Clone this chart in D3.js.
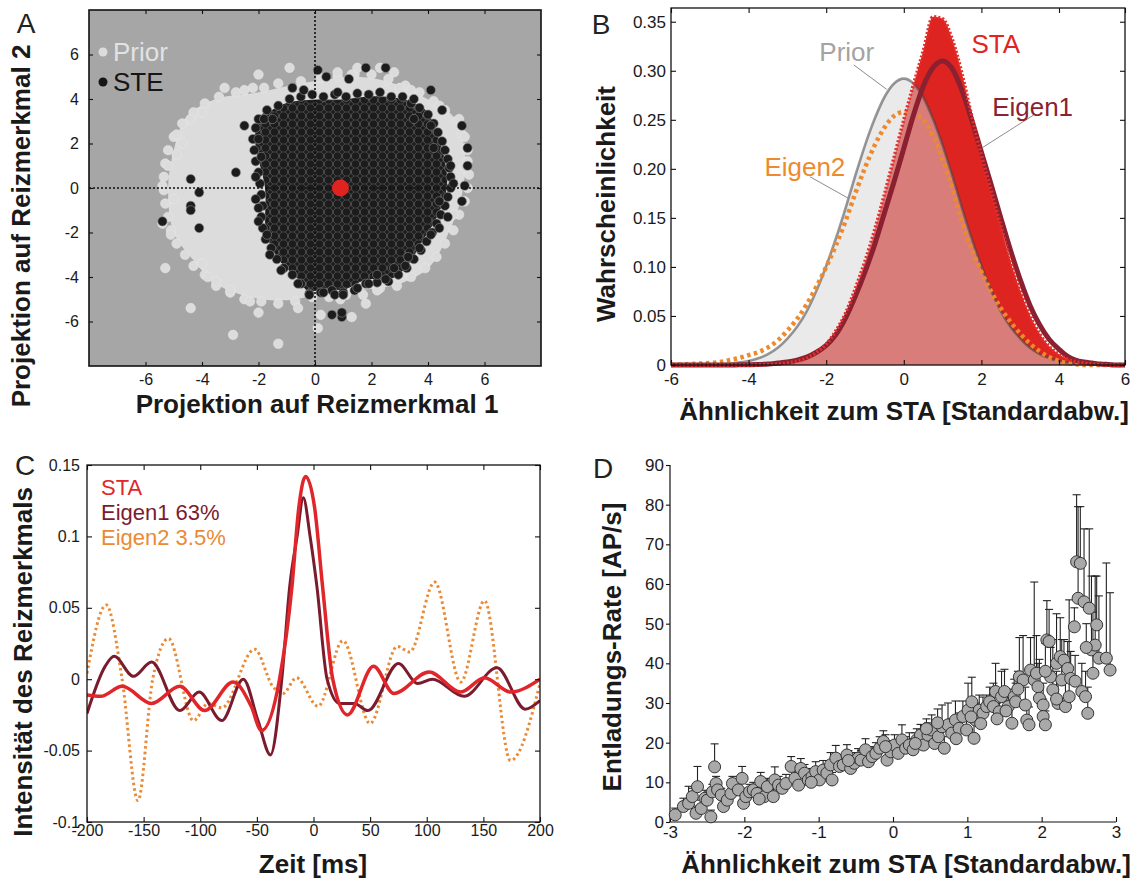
<!DOCTYPE html>
<html>
<head>
<meta charset="utf-8">
<script src="https://cdn.jsdelivr.net/npm/d3@7"></script>
<style>
  html, body { margin: 0; padding: 0; background: #fff; }
  svg { display: block; }
</style>
</head>
<body>
<svg id="fig" width="1136" height="879"></svg>
<script>
const FONT = '"Liberation Sans", Arial, Helvetica, sans-serif';

// ---------- A: projections on the two stimulus features ----------
const priorHull = [[0.25, 4.85], [1.5, 5.0], [2.8, 4.7], [4.05, 3.95], [4.9, 3.2], [5.3, 1.7], [5.2, -0.3],
  [4.7, -2.1], [4.05, -3.55], [3.0, -4.3], [1.5, -4.6], [0.25, -4.75], [-1.0, -5.05], [-2.3, -4.9],
  [-3.5, -4.3], [-4.3, -3.25], [-5.0, -2.0], [-5.2, 0.0], [-5.0, 1.7], [-4.55, 3.2], [-3.5, 4.0],
  [-2.0, 4.3], [-0.9, 4.6]];
const priorEdge = [[-0.5, 4.8], [-1.3, 4.7], [-2.2, 4.5], [-2.8, 4.3], [-3.4, 4.1], [-3.9, 3.8], [-4.3, 3.4],
  [-4.7, 2.9], [-5.0, 2.3], [-5.2, 1.7], [-5.3, 1.1], [-5.35, 0.5], [-5.35, -0.1], [-5.3, -0.7], [-5.2, -1.3],
  [-5.1, -1.9], [-4.9, -2.5], [-4.6, -3.0], [-4.3, -3.5], [-3.9, -3.9], [-3.5, -4.4], [-3.0, -4.7], [-2.5, -5.0],
  [-1.9, -5.1], [-1.3, -5.2], [-0.7, -5.1], [-0.1, -4.9], [0.5, -4.9], [1.1, -4.8], [1.7, -4.8], [2.3, -4.5],
  [2.9, -4.4], [3.4, -4.0], [3.9, -3.6], [4.3, -3.1], [4.6, -2.5], [4.9, -1.9], [5.1, -1.2], [5.3, -0.6],
  [5.4, 0.0], [5.45, 0.6], [5.4, 1.2], [5.35, 1.8], [5.2, 2.4], [5.0, 3.0], [4.6, 3.5], [4.2, 3.9], [3.7, 4.3],
  [3.2, 4.6], [2.6, 4.9], [2.0, 5.1], [1.4, 5.1], [0.8, 5.0], [0.2, 4.95]];
const priorOut = [[-0.9, 5.4], [-2.0, 5.1], [-3.2, 4.5], [-2.5, 4.4], [-1.8, 4.5], [-4.0, 3.4], [-4.4, 3.1],
  [-4.9, 2.4], [-4.9, 1.5], [-5.2, 1.0], [-5.4, 0.1], [-5.4, -1.6], [-5.1, -2.1], [-5.3, -3.6], [-4.4, -5.4],
  [-2.9, -6.6], [-1.3, -7.0], [-2.0, -5.6], [-0.6, -5.4], [0.2, -5.7], [0.1, -6.3], [1.3, -5.8], [0.9, -5.0],
  [1.8, -5.2], [2.2, -4.6], [3.0, -3.9], [3.9, -2.4], [4.5, -1.2], [5.3, 2.3], [5.4, 1.7], [5.1, 3.1],
  [4.4, 3.7], [3.4, 4.4], [3.0, 4.5], [2.8, 5.2], [2.3, 5.4], [1.5, 5.4], [1.3, 5.1], [0.8, 5.2], [2.5, 4.4],
  [-4.0, -3.4], [-3.5, -4.2], [-3.0, -4.6], [-2.3, -5.1], [5.3, 0.9], [5.2, -0.6], [4.9, -1.2], [-5.0, -0.5],
  [-4.7, 2.0], [-3.8, -4.0]];
const steHull = [[-1.95, 3.2], [-1.5, 3.5], [-1.0, 3.8], [0.0, 3.95], [0.9, 3.95], [2.15, 4.1], [3.15, 3.95],
  [3.9, 3.5], [4.3, 2.45], [4.55, 1.4], [4.65, 0.05], [4.3, -1.3], [3.8, -2.35], [3.3, -3.4], [2.8, -4.0],
  [1.8, -4.1], [1.0, -4.55], [0.4, -4.5], [-0.25, -4.6], [-0.65, -4.0], [-1.25, -3.25], [-1.7, -2.05],
  [-1.75, 0.0], [-2.1, 2.15]];
const steEdge = [[-1.3, 3.7], [-0.9, 4.0], [-0.5, 4.1], [-0.1, 4.2], [0.3, 4.1], [0.7, 4.2], [1.1, 4.1],
  [1.5, 4.25], [1.9, 4.2], [2.3, 4.3], [2.7, 4.1], [3.1, 4.1], [3.4, 3.8], [3.7, 3.6], [4.0, 3.3], [4.2, 2.9],
  [4.35, 2.5], [4.5, 2.1], [4.6, 1.7], [4.7, 1.3], [4.75, 0.9], [4.8, 0.5], [4.8, 0.0], [4.7, -0.4], [4.6, -0.8],
  [4.45, -1.2], [4.3, -1.6], [4.15, -2.0], [3.95, -2.4], [3.75, -2.8], [3.5, -3.2], [3.25, -3.6], [2.95, -3.9],
  [2.6, -4.2], [2.2, -4.25], [1.8, -4.3], [1.4, -4.6], [1.0, -4.7], [0.6, -4.6], [0.2, -4.7], [-0.2, -4.75],
  [-0.5, -4.3], [-0.8, -3.9], [-1.1, -3.6], [-1.35, -3.2], [-1.55, -2.7], [-1.75, -2.3], [-1.85, -1.8],
  [-1.9, -1.3], [-1.85, -0.8], [-1.9, -0.3], [-1.95, 0.2], [-2.0, 0.7], [-2.1, 1.2], [-2.15, 1.7], [-2.2, 2.2],
  [-2.1, 2.7], [-2.0, 3.1], [-1.7, 3.5]];
const steOut = [[0.1, 5.3], [0.4, 5.0], [1.8, 5.4], [2.5, 5.4], [4.1, 4.4], [3.5, 4.0], [4.5, 3.5], [5.2, 2.8],
  [5.4, 1.8], [5.4, 1.0], [5.3, 0.1], [5.2, -0.6], [4.9, 0.2], [4.7, -1.3], [4.4, -1.8], [-2.5, 2.8],
  [-2.8, 0.7], [-4.4, 0.4], [-4.1, -0.2], [-4.4, -0.8], [-4.4, -1.0], [-5.4, -1.5], [-4.1, -1.8], [-2.1, 0.5],
  [-2.1, -0.5], [-2.0, -1.5], [-1.7, -2.1], [-1.6, -3.0], [-0.2, -4.8], [0.3, -4.7], [0.7, -4.8], [1.0, -4.8],
  [0.6, -5.7], [0.95, -5.8], [0.95, -5.6], [2.2, -3.9], [2.8, -3.6], [3.3, -3.1], [-1.8, 3.1], [-1.5, 3.1],
  [-0.8, 4.5], [-0.4, 4.4], [0.8, 4.3], [1.2, 4.9], [3.5, 3.1], [4.1, 2.8], [4.2, 1.8], [4.8, 1.0], [4.4, -0.6],
  [4.1, -2.1], [3.7, -2.7], [1.5, -4.5], [-0.6, -4.3], [-1.2, -3.7], [-2.0, 2.2], [-1.9, 1.4], [-2.0, -0.9],
  [3.2, -3.5], [2.5, -4.1], [1.9, -4.3]];
const staPoint = [0.9, 0.0];
const aTicks = [-6, -4, -2, 0, 2, 4, 6];

// ---------- B: similarity distributions ----------
const bX = [-6, -5.75, -5.5, -5.25, -5, -4.75, -4.5, -4.25, -4, -3.75, -3.5, -3.25, -3, -2.75, -2.5, -2.25,
  -2, -1.75, -1.5, -1.25, -1, -0.75, -0.5, -0.25, 0, 0.25, 0.5, 0.75, 1, 1.25, 1.5, 1.75, 2, 2.25, 2.5, 2.75,
  3, 3.25, 3.5, 3.75, 4, 4.25, 4.5, 4.75, 5, 5.25, 5.5, 5.75, 6];
const bPrior = [0, 0, 0, 0.0002, 0.0004, 0.0007, 0.0013, 0.0024, 0.0041, 0.0069, 0.011, 0.0175, 0.027, 0.039,
  0.055, 0.076, 0.101, 0.129, 0.160, 0.193, 0.224, 0.251, 0.273, 0.287, 0.292, 0.287, 0.273, 0.251, 0.224,
  0.193, 0.160, 0.129, 0.101, 0.076, 0.055, 0.039, 0.027, 0.0175, 0.011, 0.0069, 0.0041, 0.0024, 0.0013,
  0.0007, 0.0004, 0.0002, 0, 0, 0];
const bSTA = [0, 0, 0, 0, 0, 0, 0, 0, 0, 0.0002, 0.0005, 0.001, 0.002, 0.004, 0.007, 0.013, 0.021, 0.035,
  0.053, 0.078, 0.106, 0.138, 0.174, 0.212, 0.250, 0.286, 0.320, 0.355, 0.353, 0.332, 0.297, 0.254, 0.214,
  0.178, 0.142, 0.106, 0.076, 0.051, 0.032, 0.019, 0.011, 0.006, 0.0035, 0.002, 0.001, 0.0005, 0, 0, 0];
const bEigen1 = [0, 0, 0, 0, 0, 0, 0, 0.0002, 0.0003, 0.0005, 0.001, 0.002, 0.003, 0.005, 0.008, 0.013, 0.020,
  0.031, 0.048, 0.070, 0.095, 0.123, 0.155, 0.187, 0.221, 0.255, 0.284, 0.303, 0.310, 0.302, 0.280, 0.250,
  0.217, 0.184, 0.150, 0.117, 0.087, 0.061, 0.041, 0.026, 0.016, 0.009, 0.005, 0.003, 0.002, 0.001, 0.0005, 0, 0];
const bEigen2 = [0, 0.0005, 0.001, 0.0015, 0.002, 0.003, 0.005, 0.007, 0.010, 0.013, 0.018, 0.025, 0.035, 0.047,
  0.062, 0.080, 0.100, 0.122, 0.147, 0.175, 0.201, 0.224, 0.242, 0.254, 0.258, 0.256, 0.250, 0.234, 0.210,
  0.180, 0.146, 0.118, 0.095, 0.075, 0.058, 0.044, 0.032, 0.022, 0.014, 0.008, 0.004, 0.002, 0.001, 0, 0, 0,
  0, 0, 0];
const bXTicks = [-6, -4, -2, 0, 2, 4, 6];
const bYTicks = [0, 0.05, 0.10, 0.15, 0.20, 0.25, 0.30, 0.35];

// ---------- C: stimulus features over time ----------
const cStaT = [-200, -188, -169, -143, -118, -96, -71, -55, -46, -30, -19, -13, -7, 1, 8, 17, 30, 53, 71, 102,
  130, 151, 174, 200];
const cStaV = [-0.011, -0.012, -0.005, -0.017, -0.005, -0.022, -0.002, -0.019, -0.036, 0.0, 0.065, 0.12, 0.142,
  0.12, 0.065, 0.0, -0.025, 0.009, -0.010, 0.005, -0.009, 0.001, -0.009, 0.0];
const cEig1T = [-200, -184, -176, -159, -143, -118, -101, -81, -62, -49, -38, -28, -21, -14.5, -9, -3, 3, 12, 23,
  36, 48, 75, 92, 105, 133, 162, 187, 200];
const cEig1V = [-0.024, 0.009, 0.016, 0.002, 0.012, -0.022, -0.009, -0.029, 0.0, -0.029, -0.053, 0.0, 0.065, 0.1,
  0.127, 0.1, 0.065, 0.0, -0.017, -0.017, -0.022, 0.011, -0.003, 0.0, -0.012, 0.008, -0.021, -0.015];
const cEig2T = [-200, -183, -169, -155, -142, -128, -106, -93, -81, -52, -36, -27, -15, 4, 26, 50, 74, 85, 107,
  130, 151, 174, 200];
const cEig2V = [0.004, 0.052, 0.0, -0.085, 0.0, 0.0285, -0.029, -0.017, -0.02, 0.021, -0.005, -0.01, 0.001,
  -0.019, 0.027, -0.031, 0.023, 0.019, 0.068, -0.002, 0.055, -0.057, -0.003];
const cXTicks = [-200, -150, -100, -50, 0, 50, 100, 150, 200];
const cYTicks = [-0.1, -0.05, 0, 0.05, 0.1, 0.15];
const cLegend = ['STA', 'Eigen1 63%', 'Eigen2 3.5%'];

// ---------- D: firing rate vs. similarity ----------
const dX = [-2.93, -2.82, -2.75, -2.70, -2.63, -2.65, -2.58, -2.53, -2.45, -2.50, -2.43, -2.40, -2.38, -2.36,
  -2.31, -2.28, -2.23, -2.18, -2.16, -2.08, -2.03, -2.01, -1.98, -1.93, -1.88, -1.83, -1.78, -1.73, -1.69,
  -1.61, -1.59, -1.54, -1.49, -1.44, -1.37, -1.32, -1.27, -1.24, -1.19, -1.14, -1.09, -1.04, -0.99, -0.94,
  -0.89, -0.84, -0.82, -0.77, -0.72, -0.67, -0.62, -0.57, -0.52, -0.47, -0.43, -0.37, -0.33, -0.28, -0.23,
  -0.18, -0.13, -0.08, -0.03, 0.02, 0.07, 0.12, 0.17, 0.22, 0.27, 0.32, 0.37, 0.41, 0.47, 0.52, 0.56, 0.61,
  0.66, 0.69, 0.74, 0.79, 0.84, 0.89, 0.94, 0.99, 1.01, 1.06, 1.09, 1.11, 1.16, 1.21, 1.26, 1.30, 1.35, 1.38,
  1.43, 1.46, 1.50, 1.55, 1.60, 1.63, 1.65, 1.70, 1.75, 1.78, 1.80, 1.83, 1.85, 1.90, 1.93, 1.95, 1.97, 2.02,
  2.02, 2.05, 2.07, 2.10, 2.12, 2.15, 2.20, 2.22, 2.25, 2.27, 2.30, 2.32, 2.35, 2.37, 2.39, 2.44, 2.47, 2.49,
  2.52, 2.54, 2.57, 2.59, 2.62, 2.64, 2.67, 2.69, 2.72, 2.74, 2.77, 2.87, 2.92, 0.45, 0.60, 0.85, 1.05, 1.18,
  1.40, 1.52, 1.68, -0.60, -0.10, 0.30, -1.10, -1.80, 2.60, 2.20, 2.05, 2.45];
const dY = [1.8, 3.9, 4.7, 6.4, 8.9, 2.2, 3.4, 6.0, 1.3, 5.5, 7.6, 13.9, 9.7, 8.1, 6.8, 3.9, 5.5, 7.2, 9.7, 8.1,
  11.0, 4.7, 6.4, 7.6, 8.1, 7.2, 10.2, 6.4, 8.9, 6.4, 10.6, 9.3, 8.5, 9.7, 14.0, 11.0, 9.3, 13.5, 12.3, 10.6,
  11.4, 12.7, 10.6, 13.1, 12.3, 14.4, 10.6, 16.1, 14.0, 14.4, 16.9, 13.5, 14.8, 16.1, 15.6, 18.2, 15.2, 16.5,
  17.3, 18.6, 20.3, 15.6, 17.7, 19.4, 17.3, 20.7, 18.6, 19.4, 18.2, 20.7, 21.9, 19.4, 21.9, 23.2, 19.8, 21.5,
  24.0, 18.6, 24.5, 22.4, 25.7, 23.6, 26.6, 23.2, 28.2, 30.3, 21.1, 25.7, 28.2, 27.4, 29.1, 30.3, 29.1, 32.9,
  27.8, 31.6, 32.9, 29.1, 24.9, 31.6, 30.3, 36.6, 35.8, 29.5, 25.7, 24.5, 38.3, 35.8, 37.5, 34.1, 31.2, 29.5,
  26.6, 24.5, 45.9, 45.5, 36.6, 33.3, 40.0, 29.9, 41.7, 35.8, 40.8, 29.1, 38.7, 31.6, 36.2, 49.2, 65.6, 56.4,
  65.2, 32.9, 55.5, 31.6, 27.4, 53.9, 43.4, 37.5, 44.6, 49.7, 41.3, 41.3, 38.3, 23.5, 25.0, 21.0, 26.5, 24.8,
  26.0, 28.0, 33.5, 15.5, 19.0, 19.8, 10.0, 5.8, 44.0, 31.0, 38.0, 35.5];
const dHigh = [3.5, 6.0, 9.0, 8.5, 14.0, 4.0, 5.5, 8.0, 3.0, 7.5, 9.5, 19.7, 11.5, 10.0, 8.5, 5.5, 7.5, 9.5, 11.5,
  10.0, 14.0, 6.5, 8.5, 9.5, 10.0, 9.0, 12.5, 8.5, 11.0, 8.5, 13.9, 11.5, 10.5, 12.0, 16.5, 13.5, 11.5, 16.0,
  14.5, 12.5, 13.5, 15.2, 12.5, 15.5, 14.5, 17.5, 12.5, 19.3, 16.5, 17.0, 19.5, 16.0, 17.5, 18.5, 18.0, 21.0,
  17.5, 19.0, 20.0, 21.5, 23.0, 18.0, 20.5, 22.0, 20.0, 24.5, 21.5, 22.5, 21.0, 23.5, 24.6, 22.5, 25.0, 27.0,
  23.0, 25.0, 29.5, 21.5, 30.0, 26.0, 30.5, 27.5, 30.5, 27.0, 35.0, 36.5, 25.0, 30.0, 32.0, 31.5, 32.0, 34.0,
  35.0, 40.0, 32.0, 38.0, 38.5, 33.5, 29.0, 36.0, 35.0, 46.5, 47.0, 34.0, 30.0, 29.0, 46.5, 60.5, 47.0, 40.0,
  41.0, 35.0, 31.0, 28.0, 55.8, 53.6, 44.0, 46.0, 52.5, 36.0, 51.5, 46.0, 46.0, 36.0, 45.5, 56.0, 43.0, 54.0,
  82.5, 79.5, 79.5, 40.0, 73.9, 38.0, 34.0, 73.9, 62.0, 52.9, 62.0, 62.0, 57.0, 65.3, 57.8, 26.0, 28.5, 24.0,
  30.0, 28.0, 30.0, 31.5, 38.0, 18.0, 22.0, 22.5, 12.0, 8.0, 50.0, 38.0, 45.0, 42.0];
const dXTicks = [-3, -2, -1, 0, 1, 2, 3];
const dYTicks = [0, 10, 20, 30, 40, 50, 60, 70, 80, 90];

// ---------------------------------------------------------------
const svg = d3.select('#fig').attr('font-family', FONT);
svg.append('rect').attr('width', 1136).attr('height', 879).attr('fill', '#fff');
const defs = svg.append('defs');

function styleAxis(sel, fs) {
  sel.select('.domain').remove();
  sel.attr('font-family', FONT).attr('font-size', fs);
  sel.selectAll('line').attr('stroke', '#111').attr('stroke-width', 1.1);
  sel.selectAll('text').attr('fill', '#1a1a1a');
}

// axes with inward ticks on all four sides, as in the boxed panels
function boxAxes(g, x, y, o) {
  const xr = x.range(), yr = y.range();
  const x0 = xr[0], x1 = xr[xr.length - 1], yB = yr[0], yT = yr[yr.length - 1];
  g.append('g').attr('transform', `translate(0,${yB})`)
    .call(d3.axisBottom(x).tickValues(o.xTicks).tickFormat(o.xFmt).tickSize(-o.tick).tickPadding(o.xPad))
    .call(styleAxis, o.fs);
  g.append('g').attr('transform', `translate(${x0},0)`)
    .call(d3.axisLeft(y).tickValues(o.yTicks).tickFormat(o.yFmt).tickSize(-o.tick).tickPadding(o.yPad))
    .call(styleAxis, o.fs);
  g.append('g').attr('transform', `translate(0,${yT})`)
    .call(d3.axisTop(x).tickValues(o.xTicks).tickFormat(() => '').tickSize(-o.tick))
    .call(styleAxis, o.fs);
  g.append('g').attr('transform', `translate(${x1},0)`)
    .call(d3.axisRight(y).tickValues(o.yTicks).tickFormat(() => '').tickSize(-o.tick))
    .call(styleAxis, o.fs);
  g.append('rect').attr('x', x0).attr('y', yT).attr('width', x1 - x0).attr('height', yB - yT)
    .attr('fill', 'none').attr('stroke', '#111').attr('stroke-width', o.frame || 1.3);
}

function title(g, text, x, y, rotate, size) {
  g.append('text')
    .attr('transform', `translate(${x},${y})` + (rotate ? ' rotate(-90)' : ''))
    .attr('text-anchor', 'middle').attr('dominant-baseline', 'central')
    .attr('font-weight', 'bold').attr('font-size', size || 26).attr('fill', '#1a1a1a')
    .text(text);
}

function panelLabel(text, x, y) {
  svg.append('text').attr('x', x).attr('y', y)
    .attr('text-anchor', 'middle').attr('dominant-baseline', 'central')
    .attr('font-size', 28).attr('fill', '#222').text(text);
}

const fmt = d => String(d);

// ============================ A ============================
{
  const x = d3.scaleLinear().domain([-8, 8]).range([89, 541]);
  const y = d3.scaleLinear().domain([-8, 8]).range([366, 10]);
  const g = svg.append('g');

  defs.append('clipPath').attr('id', 'clipA').append('rect')
    .attr('x', 89).attr('y', 10).attr('width', 452).attr('height', 356);
  const tex = defs.append('pattern').attr('id', 'steTex').attr('patternUnits', 'userSpaceOnUse')
    .attr('width', 9).attr('height', 8);
  tex.append('rect').attr('width', 9).attr('height', 8).attr('fill', '#1c1c1c');
  [[0, 0], [9, 0], [0, 8], [9, 8], [4.5, 4]].forEach(([cx, cy]) => {
    tex.append('circle').attr('cx', cx).attr('cy', cy).attr('r', 4.2)
      .attr('fill', '#1c1c1c').attr('stroke', '#7d7d7d').attr('stroke-width', 0.45);
  });

  g.append('rect').attr('x', 89).attr('y', 10).attr('width', 452).attr('height', 356).attr('fill', '#a6a6a6');

  const plot = g.append('g').attr('clip-path', 'url(#clipA)');
  const hull = d3.line().x(d => x(d[0])).y(d => y(d[1])).curve(d3.curveCatmullRomClosed.alpha(0.5));

  plot.append('path').datum(priorHull).attr('d', hull).attr('fill', '#dcdcdc');
  plot.selectAll('.pri').data(priorEdge.concat(priorOut)).join('circle').attr('class', 'pri')
    .attr('cx', d => x(d[0])).attr('cy', d => y(d[1])).attr('r', 4.8)
    .attr('fill', '#dcdcdc').attr('stroke', '#e8e8e8').attr('stroke-width', 0.5);

  plot.append('path').datum(steHull).attr('d', hull).attr('fill', 'url(#steTex)')
    .attr('stroke', '#1c1c1c').attr('stroke-width', 1);
  plot.selectAll('.ste').data(steEdge.concat(steOut)).join('circle').attr('class', 'ste')
    .attr('cx', d => x(d[0])).attr('cy', d => y(d[1])).attr('r', 4.6)
    .attr('fill', '#1c1c1c').attr('stroke', '#8a8a8a').attr('stroke-width', 0.6);

  plot.append('line').attr('x1', x(-8)).attr('x2', x(8)).attr('y1', y(0)).attr('y2', y(0))
    .attr('stroke', '#111').attr('stroke-width', 1.6).attr('stroke-dasharray', '2,2');
  plot.append('line').attr('x1', x(0)).attr('x2', x(0)).attr('y1', y(-8)).attr('y2', y(8))
    .attr('stroke', '#111').attr('stroke-width', 1.6).attr('stroke-dasharray', '2,2');

  plot.append('circle').attr('cx', x(staPoint[0])).attr('cy', y(staPoint[1])).attr('r', 8.5)
    .attr('fill', '#e0231e');

  boxAxes(g, x, y, { xTicks: aTicks, yTicks: aTicks, xFmt: fmt, yFmt: fmt, tick: 4, xPad: 8, yPad: 10,
    fs: 16, frame: 1.6 });

  // legend
  g.append('circle').attr('cx', 103).attr('cy', 52).attr('r', 4.5).attr('fill', '#dcdcdc');
  g.append('text').attr('x', 113).attr('y', 52).attr('dominant-baseline', 'central')
    .attr('font-size', 26).attr('fill', '#e2e2e2').text('Prior');
  g.append('circle').attr('cx', 103).attr('cy', 82).attr('r', 4.5).attr('fill', '#151515');
  g.append('text').attr('x', 113).attr('y', 82).attr('dominant-baseline', 'central')
    .attr('font-size', 26).attr('fill', '#151515').text('STE');

  title(g, 'Projektion auf Reizmerkmal 1', 317, 404, false);
  title(g, 'Projektion auf Reizmerkmal 2', 21, 226, true);
  panelLabel('A', 26, 23);
}

// ============================ B ============================
{
  const x = d3.scaleLinear().domain([-6, 4, 6]).range([671, 1059, 1125]);
  const y = d3.scaleLinear().domain([0, 0.364]).range([365, 8]);
  const g = svg.append('g');
  defs.append('clipPath').attr('id', 'clipB').append('rect')
    .attr('x', 671).attr('y', 8).attr('width', 454).attr('height', 361);
  const plot = g.append('g').attr('clip-path', 'url(#clipB)');

  const rows = s => bX.map((v, i) => [v, s[i]]);
  const area = d3.area().x(d => x(d[0])).y0(y(0)).y1(d => y(d[1])).curve(d3.curveMonotoneX);
  const line = d3.line().x(d => x(d[0])).y(d => y(d[1])).curve(d3.curveMonotoneX);

  plot.append('path').datum(rows(bSTA)).attr('d', area).attr('fill', '#dd2420');
  plot.append('path').datum(rows(bPrior)).attr('d', area).attr('fill', '#d6d6d6').attr('fill-opacity', 0.5);
  plot.append('path').datum(rows(bPrior)).attr('d', line).attr('fill', 'none')
    .attr('stroke', '#444').attr('stroke-opacity', 0.55).attr('stroke-width', 2.6);
  plot.append('path').datum(rows(bEigen2)).attr('d', line).attr('fill', 'none')
    .attr('stroke', '#ee8a2e').attr('stroke-width', 4.5).attr('stroke-dasharray', '3.5,3.5');
  plot.append('path').datum(rows(bEigen1)).attr('d', line).attr('fill', 'none')
    .attr('stroke', '#8a2030').attr('stroke-width', 5);
  plot.append('path').datum(rows(bSTA)).attr('d', line).attr('fill', 'none')
    .attr('stroke', '#e4302c').attr('stroke-width', 3.5).attr('stroke-dasharray', '2,2');

  boxAxes(g, x, y, { xTicks: bXTicks, yTicks: bYTicks, xFmt: fmt,
    yFmt: d => d === 0 ? '0' : d.toFixed(2), tick: 5, xPad: 8, yPad: 5, fs: 17 });

  const labels = [
    { t: 'Prior', x: -1.47, y: 0.319, c: '#a3a3a3', from: [-1.29, 0.306], to: [-0.44, 0.281] },
    { t: 'STA', x: 2.37, y: 0.327, c: '#e02424' },
    { t: 'Eigen1', x: 3.32, y: 0.263, c: '#8a2232', from: [3.35, 0.255], to: [2.04, 0.222] },
    { t: 'Eigen2', x: -2.55, y: 0.202, c: '#ee8a2e', from: [-2.42, 0.192], to: [-1.43, 0.170] }
  ];
  labels.filter(d => d.from).forEach(d => {
    g.append('line').attr('x1', x(d.from[0])).attr('y1', y(d.from[1]))
      .attr('x2', x(d.to[0])).attr('y2', y(d.to[1])).attr('stroke', '#8c8c8c').attr('stroke-width', 1);
  });
  labels.forEach(d => {
    g.append('text').attr('x', x(d.x)).attr('y', y(d.y)).attr('text-anchor', 'middle')
      .attr('dominant-baseline', 'central').attr('font-size', 26).attr('fill', d.c).text(d.t);
  });

  title(g, 'Ähnlichkeit zum STA [Standardabw.]', 904, 411, false);
  title(g, 'Wahrscheinlichkeit', 606, 204, true);
  panelLabel('B', 601, 24);
}

// ============================ C ============================
{
  const x = d3.scaleLinear().domain([-200, 200]).range([87, 540]);
  const y = d3.scaleLinear().domain([-0.1, 0.15]).range([822, 465]);
  const g = svg.append('g');
  defs.append('clipPath').attr('id', 'clipC').append('rect')
    .attr('x', 87).attr('y', 465).attr('width', 453).attr('height', 357);
  const plot = g.append('g').attr('clip-path', 'url(#clipC)');
  const line = d3.line().x(d => x(d[0])).y(d => y(d[1])).curve(d3.curveMonotoneX);
  const pairs = (t, v) => t.map((d, i) => [d, v[i]]);

  plot.append('path').datum(pairs(cEig2T, cEig2V)).attr('d', line).attr('fill', 'none')
    .attr('stroke', '#ea8a36').attr('stroke-width', 3).attr('stroke-dasharray', '2.5,3');
  plot.append('path').datum(pairs(cEig1T, cEig1V)).attr('d', line).attr('fill', 'none')
    .attr('stroke', '#7a1c2e').attr('stroke-width', 3);
  plot.append('path').datum(pairs(cStaT, cStaV)).attr('d', line).attr('fill', 'none')
    .attr('stroke', '#e0262a').attr('stroke-width', 3.5);

  boxAxes(g, x, y, { xTicks: cXTicks, yTicks: cYTicks, xFmt: fmt, yFmt: fmt, tick: 5, xPad: 3, yPad: 7, fs: 16 });

  const legColors = ['#e0262a', '#7a1c2e', '#ea8a36'];
  cLegend.forEach((t, i) => {
    g.append('text').attr('x', 101).attr('y', 487 + i * 25).attr('dominant-baseline', 'central')
      .attr('font-size', 22).attr('fill', legColors[i]).text(t);
  });

  title(g, 'Zeit [ms]', 313, 864, false);
  title(g, 'Intensität des Reizmerkmals', 23, 662, true);
  panelLabel('C', 25, 465);
}

// ============================ D ============================
{
  const x = d3.scaleLinear().domain([-3, 3]).range([670, 1116]);
  const y = d3.scaleLinear().domain([0, 90]).range([822, 465]);
  const g = svg.append('g');
  const pts = dX.map((v, i) => ({ x: v, y: dY[i], hi: dHigh[i] }));

  g.append('g').attr('transform', 'translate(0,822)')
    .call(d3.axisBottom(x).tickValues(dXTicks).tickFormat(fmt).tickSize(-5).tickPadding(4))
    .call(styleAxis, 17);
  g.append('g').attr('transform', 'translate(670,0)')
    .call(d3.axisLeft(y).tickValues(dYTicks).tickFormat(fmt).tickSize(4).tickPadding(2))
    .call(styleAxis, 17);
  g.append('line').attr('x1', 670).attr('x2', 1116).attr('y1', 822).attr('y2', 822)
    .attr('stroke', '#111').attr('stroke-width', 1.2);
  g.append('line').attr('x1', 670).attr('x2', 670).attr('y1', 465).attr('y2', 822)
    .attr('stroke', '#111').attr('stroke-width', 1.2);

  const bars = g.append('g').attr('stroke', '#222').attr('stroke-width', 1.1);
  bars.selectAll('.eb').data(pts).join('line').attr('class', 'eb')
    .attr('x1', d => x(d.x)).attr('x2', d => x(d.x)).attr('y1', d => y(d.y)).attr('y2', d => y(d.hi));
  bars.selectAll('.cap').data(pts).join('line').attr('class', 'cap')
    .attr('x1', d => x(d.x) - 4).attr('x2', d => x(d.x) + 4).attr('y1', d => y(d.hi)).attr('y2', d => y(d.hi));

  g.selectAll('.pt').data(pts).join('circle').attr('class', 'pt')
    .attr('cx', d => x(d.x)).attr('cy', d => y(d.y)).attr('r', 6)
    .attr('fill', '#a9a9a9').attr('stroke', '#333').attr('stroke-width', 1);

  title(g, 'Ähnlichkeit zum STA [Standardabw.]', 906, 864, false);
  title(g, 'Entladungs-Rate [AP/s]', 612, 647, true);
  panelLabel('D', 603, 468);
}
</script>
</body>
</html>
